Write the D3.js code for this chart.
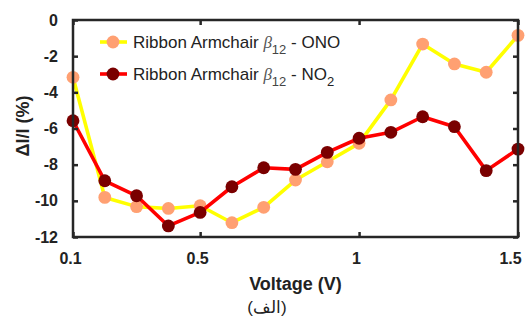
<!DOCTYPE html>
<html>
<head>
<meta charset="utf-8">
<script src="https://cdn.jsdelivr.net/npm/d3@7"></script>
<style>
  body { margin: 0; background: #fff; }
  svg text { font-family: "Liberation Sans", Arial, sans-serif; fill: #222; }
</style>
</head>
<body>
<svg id="chart" width="529" height="325"></svg>
<script>
// data
var voltage = [0.1, 0.2, 0.3, 0.4, 0.5, 0.6, 0.7, 0.8, 0.9, 1.0, 1.1, 1.2, 1.3, 1.4, 1.5];
var onoValues = [-3.17, -9.81, -10.32, -10.42, -10.27, -11.21, -10.36, -8.85, -7.84, -6.82, -4.42, -1.33, -2.43, -2.89, -0.85];
var no2Values = [-5.57, -8.89, -9.72, -11.39, -10.64, -9.22, -8.17, -8.26, -7.32, -6.54, -6.21, -5.35, -5.9, -8.33, -7.14];
var xTicks = [0.1, 0.5, 1, 1.5];
var yTicks = [0, -2, -4, -6, -8, -10, -12];

var svg = d3.select('#chart');
var plotLeft = 73, plotRight = 518, plotTop = 20, plotBottom = 237;

var x = d3.scaleLinear().domain([0.1, 1.5]).range([plotLeft, plotRight]);
var y = d3.scaleLinear().domain([-12, 0]).range([plotBottom, plotTop]);

var axisColor = '#262626';

// series
var series = [
    {name: 'ONO', values: onoValues, line: '#ffff00', marker: '#ffa072'},
    {name: 'NO2', values: no2Values, line: '#ff0000', marker: '#7a0000'}
];

var line = d3.line()
    .x(function(d, i) { return x(voltage[i]); })
    .y(function(d) { return y(d); });

series.forEach(function(s) {
    var g = svg.append('g');
    g.append('path')
        .attr('d', line(s.values))
        .attr('fill', 'none')
        .attr('stroke', s.line)
        .attr('stroke-width', 3.6)
        .attr('stroke-linejoin', 'round');
    g.selectAll('circle')
        .data(s.values)
        .enter()
        .append('circle')
        .attr('cx', function(d, i) { return x(voltage[i]); })
        .attr('cy', function(d) { return y(d); })
        .attr('r', 6.4)
        .attr('fill', s.marker);
});

// frame
svg.append('rect')
    .attr('x', plotLeft).attr('y', plotTop)
    .attr('width', plotRight - plotLeft).attr('height', plotBottom - plotTop)
    .attr('fill', 'none')
    .attr('stroke', axisColor)
    .attr('stroke-width', 2.5);

// axes with inward ticks, plain hyphen for negatives
var plain = function(d) { return String(d); };
var xAxis = svg.append('g')
    .attr('transform', 'translate(0,' + plotBottom + ')')
    .call(d3.axisBottom(x).tickValues(xTicks).tickSize(-5).tickPadding(16).tickFormat(plain));
var xTop = svg.append('g')
    .attr('transform', 'translate(0,' + plotTop + ')')
    .call(d3.axisTop(x).tickValues(xTicks).tickSize(-5).tickFormat(''));
var yAxis = svg.append('g')
    .attr('transform', 'translate(' + plotLeft + ',0)')
    .call(d3.axisLeft(y).tickValues(yTicks).tickSize(-5).tickPadding(15).tickFormat(plain));
var yRight = svg.append('g')
    .attr('transform', 'translate(' + plotRight + ',0)')
    .call(d3.axisRight(y).tickValues(yTicks).tickSize(-5).tickFormat(''));

[xAxis, xTop, yAxis, yRight].forEach(function(a) {
    a.select('.domain').remove();
    a.selectAll('line').attr('stroke', axisColor).attr('stroke-width', 2.5);
    a.selectAll('text')
        .attr('font-size', 16)
        .attr('font-weight', 'bold')
        .attr('font-family', '"Liberation Sans", Arial, sans-serif')
        .attr('fill', '#333');
});
xAxis.selectAll('text').attr('dx', -3);
xAxis.selectAll('.tick').filter(function(d) { return d === 1.5; })
    .select('text').attr('dx', -8);

// axis titles
svg.append('text')
    .attr('x', (plotLeft + plotRight) / 2).attr('y', 290)
    .attr('text-anchor', 'middle')
    .attr('font-size', 18).attr('font-weight', 'bold')
    .text('Voltage (V)');

svg.append('text')
    .attr('x', 267).attr('y', 313)
    .attr('text-anchor', 'middle')
    .attr('font-size', 17)
    .text('(الف)');

svg.append('text')
    .attr('transform', 'translate(29,126) rotate(-90)')
    .attr('text-anchor', 'middle')
    .attr('font-size', 18).attr('font-weight', 'bold')
    .text('\u0394I/I (%)');

// legend
var legend = [
    {s: series[0], y: 42, main: 'ONO', sub: ''},
    {s: series[1], y: 74, main: 'NO', sub: '2'}
];
legend.forEach(function(l) {
    svg.append('line')
        .attr('x1', 100).attr('x2', 127)
        .attr('y1', l.y).attr('y2', l.y)
        .attr('stroke', l.s.line).attr('stroke-width', 3.6);
    svg.append('circle')
        .attr('cx', 113).attr('cy', l.y).attr('r', 6.4)
        .attr('fill', l.s.marker);
    var t = svg.append('text')
        .attr('x', 133).attr('y', l.y + 6)
        .attr('font-size', 17);
    t.append('tspan').text('Ribbon Armchair ');
    t.append('tspan')
        .attr('font-family', '"Liberation Serif", serif')
        .attr('font-style', 'italic')
        .attr('fill', '#555')
        .text('\u03b2');
    t.append('tspan').attr('dy', 6).attr('font-size', 13).attr('fill', '#444').text('12');
    t.append('tspan').attr('dy', -6).text(' - ' + l.main);
    if (l.sub) {
        t.append('tspan').attr('dy', 6).attr('font-size', 13).text(l.sub);
    }
});
</script>
</body>
</html>
